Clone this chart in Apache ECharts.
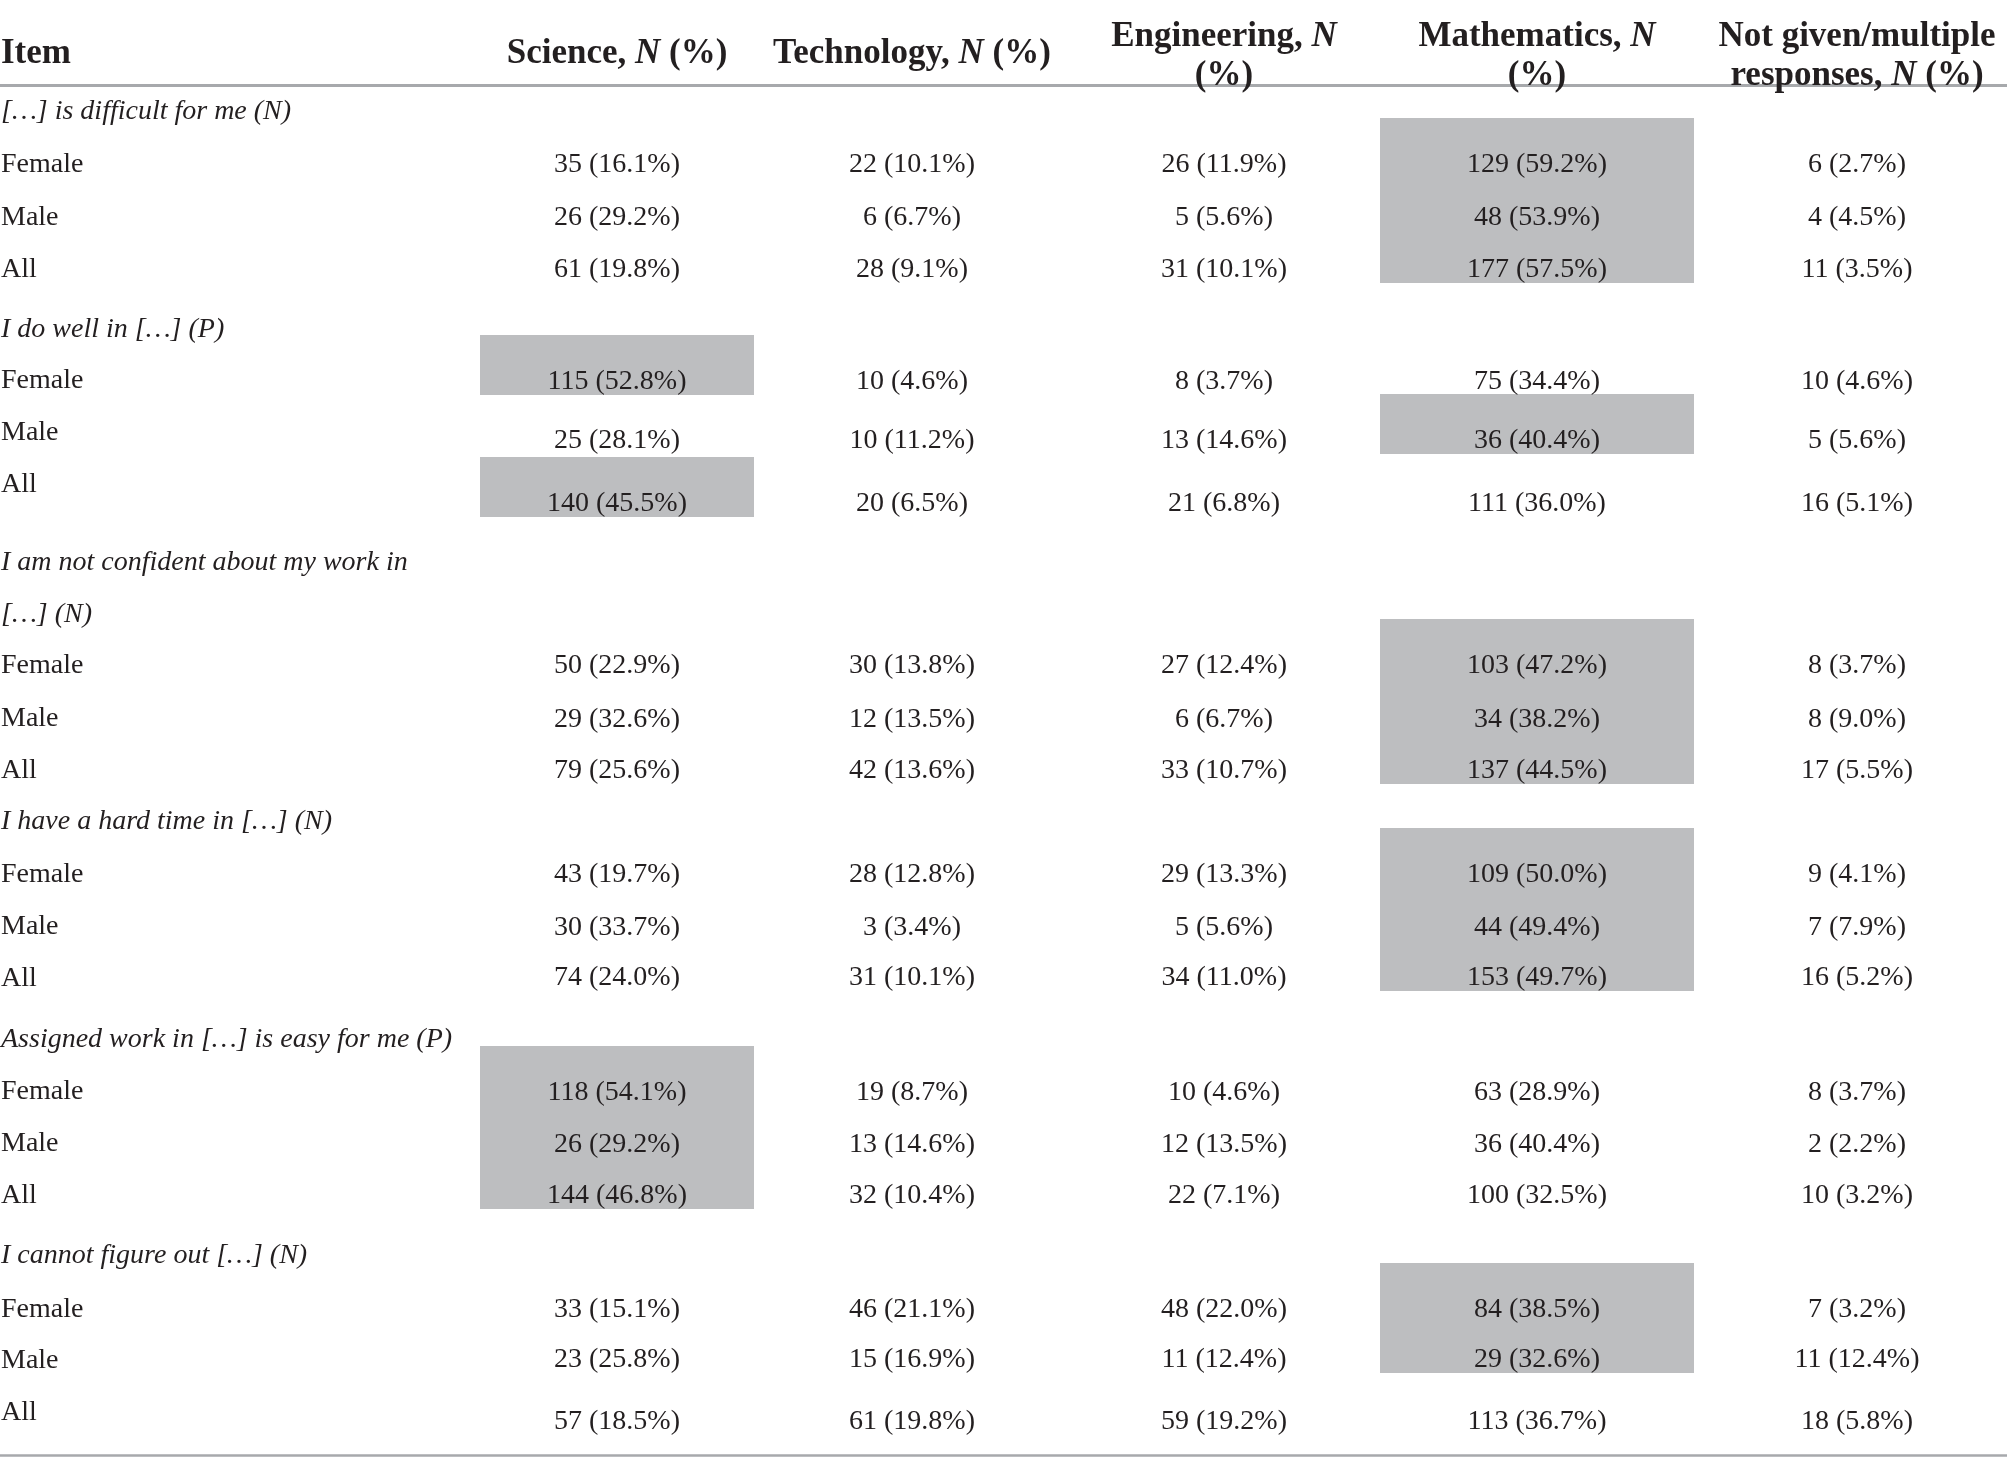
<!DOCTYPE html>
<html>
<head>
<meta charset="UTF-8">
<title>STEM subject responses</title>
<script src="https://cdn.jsdelivr.net/npm/echarts@6/dist/echarts.min.js"></script>
<style>
  html, body { margin: 0; padding: 0; background: #ffffff; }
  #main { width: 2007px; height: 1474px; }
</style>
</head>
<body>
<div id="main"></div>
<script>
var headers = [
  ['Science, *N* (%)'],
  ['Technology, *N* (%)'],
  ['Engineering, *N*', '(%)'],
  ['Mathematics, *N*', '(%)'],
  ['Not given/multiple', 'responses, *N* (%)']
];
var items = [
  '[…] is difficult for me (N)',
  'I do well in […] (P)',
  'I am not confident about my work in\n[…] (N)',
  'I have a hard time in […] (N)',
  'Assigned work in […] is easy for me (P)',
  'I cannot figure out […] (N)'
];
var groups = ['Female', 'Male', 'All'];

// counts per item: rows Female / Male / All, columns S, T, E, M, not given
var counts = [
  [[35, 22, 26, 129, 6], [26, 6, 5, 48, 4], [61, 28, 31, 177, 11]],
  [[115, 10, 8, 75, 10], [25, 10, 13, 36, 5], [140, 20, 21, 111, 16]],
  [[50, 30, 27, 103, 8], [29, 12, 6, 34, 8], [79, 42, 33, 137, 17]],
  [[43, 28, 29, 109, 9], [30, 3, 5, 44, 7], [74, 31, 34, 153, 16]],
  [[118, 19, 10, 63, 8], [26, 13, 12, 36, 2], [144, 32, 22, 100, 10]],
  [[33, 46, 48, 84, 7], [23, 15, 11, 29, 11], [57, 61, 59, 113, 18]]
];
var percents = [
  [[16.1, 10.1, 11.9, 59.2, 2.7], [29.2, 6.7, 5.6, 53.9, 4.5], [19.8, 9.1, 10.1, 57.5, 3.5]],
  [[52.8, 4.6, 3.7, 34.4, 4.6], [28.1, 11.2, 14.6, 40.4, 5.6], [45.5, 6.5, 6.8, 36.0, 5.1]],
  [[22.9, 13.8, 12.4, 47.2, 3.7], [32.6, 13.5, 6.7, 38.2, 9.0], [25.6, 13.6, 10.7, 44.5, 5.5]],
  [[19.7, 12.8, 13.3, 50.0, 4.1], [33.7, 3.4, 5.6, 49.4, 7.9], [24.0, 10.1, 11.0, 49.7, 5.2]],
  [[54.1, 8.7, 4.6, 28.9, 3.7], [29.2, 14.6, 13.5, 40.4, 2.2], [46.8, 10.4, 7.1, 32.5, 3.2]],
  [[15.1, 21.1, 22.0, 38.5, 3.2], [25.8, 16.9, 12.4, 32.6, 12.4], [18.5, 19.8, 19.2, 36.7, 5.8]]
];
// shaded cells: [item, column, first row, last row]
var highlights = [
  [0, 3, 0, 2],
  [1, 0, 0, 0],
  [1, 3, 1, 1],
  [1, 0, 2, 2],
  [2, 3, 0, 2],
  [3, 3, 0, 2],
  [4, 0, 0, 2],
  [5, 3, 0, 1]
];

// ---- layout (pixel units of the axes) ----
var W = 2007, H = 1474;
var colX = [617, 912, 1224, 1537, 1857];
var colHalf = [137, 150, 150, 157, 150];
var headerY1 = 54, headerTop = 37, headerBottom = 76;
var itemY = [109, 327, 560, 819, 1037, 1253];
var labelY = [[162, 215, 267], [378, 430, 482], [663, 716, 768], [872, 924, 976], [1089, 1141, 1193], [1307, 1358, 1410]];
var valueY = [[162, 215, 267], [379, 438, 501], [663, 717, 768], [872, 925, 975], [1090, 1142, 1193], [1307, 1357, 1419]];
var rules = [[85.5, 3], [1455.5, 2.5]];
var textShift = 3; // canvas 'middle' sits a little high for this face

var SERIF = '"Liberation Serif", "DejaVu Serif", serif';
var INK = '#231f20';

function richHeader(s) {
  return s.split('*').map(function (part, i) {
    if (!part) return '';
    return (i % 2 ? '{bi|' : '{b|') + part + '}';
  }).join('');
}
var headRich = {
  b: { fontFamily: SERIF, fontWeight: 'bold', fontSize: 35, fill: INK, color: INK },
  bi: { fontFamily: SERIF, fontWeight: 'bold', fontStyle: 'italic', fontSize: 35, fill: INK, color: INK }
};

// build text cells
var cells = [];
cells.push({ x: 1, y: headerY1, text: '{b|Item}', align: 'left', rich: true });
headers.forEach(function (lines, c) {
  if (lines.length === 1) {
    cells.push({ x: colX[c], y: headerY1, text: richHeader(lines[0]), align: 'center', rich: true });
  } else {
    cells.push({ x: colX[c], y: headerTop, text: richHeader(lines[0]), align: 'center', rich: true });
    cells.push({ x: colX[c], y: headerBottom, text: richHeader(lines[1]), align: 'center', rich: true });
  }
});
items.forEach(function (label, i) {
  cells.push({ x: 1, y: itemY[i] + textShift, text: label, align: 'left', italic: true });
  groups.forEach(function (g, r) {
    cells.push({ x: 1, y: labelY[i][r] + textShift, text: g, align: 'left' });
    counts[i][r].forEach(function (n, c) {
      cells.push({
        x: colX[c], y: valueY[i][r] + textShift,
        text: n + ' (' + percents[i][r][c].toFixed(1) + '%)',
        align: 'center'
      });
    });
  });
});

var myChart = echarts.init(document.getElementById('main'), null, { renderer: 'canvas' });
var option = {
  backgroundColor: '#ffffff',
  animation: false,
  grid: { left: 0, right: 0, top: 0, bottom: 0 },
  xAxis: { type: 'value', min: 0, max: W, show: false },
  yAxis: { type: 'value', min: 0, max: H, inverse: true, show: false },
  series: [
    {
      // grey shading behind the largest answers
      type: 'custom',
      z: 1,
      data: highlights,
      renderItem: function (params, api) {
        var it = api.value(0), c = api.value(1), r0 = api.value(2), r1 = api.value(3);
        var p0 = api.coord([colX[c] - colHalf[c], valueY[it][r0] - 44]);
        var p1 = api.coord([colX[c] + colHalf[c], valueY[it][r1] + 16]);
        return {
          type: 'rect',
          shape: { x: p0[0], y: p0[1], width: p1[0] - p0[0], height: p1[1] - p0[1] },
          style: { fill: '#bdbec0' }
        };
      }
    },
    {
      // horizontal rules
      type: 'custom',
      z: 2,
      data: rules,
      renderItem: function (params, api) {
        var a = api.coord([0, api.value(0)]);
        var b = api.coord([W, api.value(0)]);
        return {
          type: 'line',
          shape: { x1: a[0], y1: a[1], x2: b[0], y2: b[1] },
          style: { stroke: '#a7a9ac', lineWidth: api.value(1) }
        };
      }
    },
    {
      // all table text
      type: 'custom',
      z: 3,
      data: cells.map(function (d) { return [d.x, d.y]; }),
      renderItem: function (params, api) {
        var d = cells[params.dataIndex];
        var p = api.coord([api.value(0), api.value(1)]);
        var style = {
          x: p[0], y: p[1],
          text: d.text,
          align: d.align,
          verticalAlign: 'middle',
          fill: INK,
          lineHeight: 52
        };
        if (d.rich) {
          style.rich = headRich;
          style.font = 'bold 35px ' + SERIF;
        } else {
          style.font = (d.italic ? 'italic ' : '') + '28px ' + SERIF;
        }
        if (d.italic && d.text.indexOf('\n') > -1) {
          // two-line item label: first line sits on itemY
          style.y = p[1] + 26;
        }
        return { type: 'text', style: style };
      }
    }
  ]
};
myChart.setOption(option);
</script>
</body>
</html>
